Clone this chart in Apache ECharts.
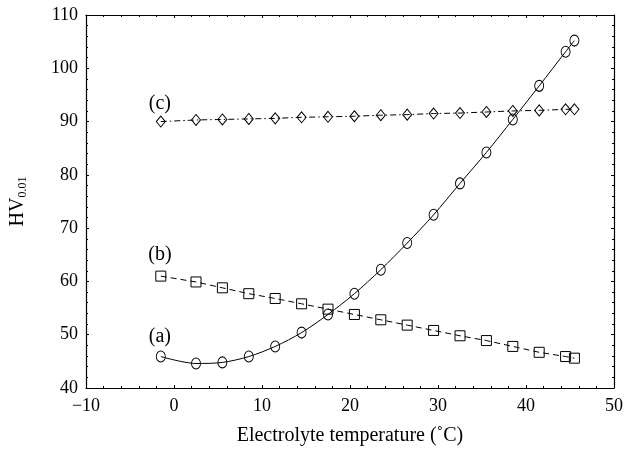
<!DOCTYPE html>
<html>
<head>
<meta charset="utf-8">
<script src="https://cdn.jsdelivr.net/npm/echarts@6/dist/echarts.min.js"></script>
<style>
  html, body { margin: 0; padding: 0; background: #fff; }
  #chart { width: 626px; height: 451px; }
</style>
</head>
<body>
<div id="chart"></div>
<script>
// electrolyte temperature (°C)
const temps = [-1.5, 2.5, 5.5, 8.5, 11.5, 14.5, 17.5, 20.5, 23.5, 26.5, 29.5, 32.5, 35.5, 38.5, 41.5, 44.5, 45.5];
// HV0.01 hardness
const seriesA = [45.9, 44.6, 44.8, 45.9, 47.8, 50.4, 53.8, 57.7, 62.2, 67.2, 72.5, 78.4, 84.2, 90.4, 96.7, 103.1, 105.2];
const seriesB = [61.0, 59.9, 58.8, 57.7, 56.8, 55.8, 54.8, 53.8, 52.8, 51.8, 50.8, 49.8, 48.9, 47.8, 46.7, 45.9, 45.6];
const seriesC = [90.0, 90.3, 90.4, 90.5, 90.6, 90.8, 90.9, 91.0, 91.2, 91.3, 91.5, 91.6, 91.8, 92.0, 92.1, 92.3, 92.3];
const curveLabels = ["(a)", "(b)", "(c)"];
const labelSpots = [[-1.6, 49.6], [-1.6, 65.0], [-1.6, 93.3]];

const font = "Liberation Serif";
const pair = (ys) => temps.map((t, i) => [t, ys[i]]);

const chart = echarts.init(document.getElementById("chart"));

const tickCommon = {
  axisLine: { show: true, onZero: false, lineStyle: { color: "#000", width: 1.2 } },
  axisTick: { show: true, inside: true, length: 3, lineStyle: { color: "#000" } },
  minorTick: { show: true, splitNumber: 5, length: 2, lineStyle: { color: "#000" } },
  splitLine: { show: false },
};

function mark(i) {
  return {
    symbol: "circle",
    symbolSize: 0,
    silent: true,
    label: {
      show: true,
      position: "inside",
      formatter: curveLabels[i],
      color: "#000",
      fontFamily: font,
      fontSize: 20,
    },
    data: [{ coord: labelSpots[i] }],
  };
}

const lineSeries = (data, symbol, size, dash, i, smooth) => ({
  type: "line",
  data: pair(data),
  symbol: symbol,
  symbolSize: size,
  smooth: smooth,
  showSymbol: true,
  animation: false,
  lineStyle: { color: "#000", width: 1, type: dash },
  itemStyle: { color: "rgba(0,0,0,0)", borderColor: "#000", borderWidth: 1 },
  markPoint: mark(i),
});

const minus = (v) => String(v).replace("-", "\u2212");

chart.setOption({
  animation: false,
  grid: { left: 86, right: 12, top: 15, bottom: 63 },
  xAxis: [
    {
      type: "value",
      min: -10,
      max: 50,
      interval: 10,
      name: "Electrolyte temperature (˚C)",
      nameLocation: "middle",
      nameGap: 38,
      nameTextStyle: { fontFamily: font, fontSize: 20, color: "#000" },
      axisLabel: { fontFamily: font, fontSize: 18, color: "#000", margin: 9, formatter: minus },
      ...tickCommon,
    },
    {
      type: "value",
      position: "top",
      min: -10,
      max: 50,
      interval: 10,
      axisLabel: { show: false },
      ...tickCommon,
    },
  ],
  yAxis: [
    {
      type: "value",
      min: 40,
      max: 110,
      interval: 10,
      name: "{m|HV}{s|0.01}",
      nameLocation: "middle",
      nameGap: 57,
      nameTextStyle: {
        color: "#000",
        rich: {
          m: { fontFamily: font, fontSize: 20, color: "#000" },
          s: { fontFamily: font, fontSize: 12, color: "#000", padding: [10, 0, 0, 0] },
        },
      },
      axisLabel: { fontFamily: font, fontSize: 18, color: "#000", margin: 8 },
      ...tickCommon,
    },
    {
      type: "value",
      position: "right",
      min: 40,
      max: 110,
      interval: 10,
      axisLabel: { show: false },
      ...tickCommon,
    },
  ],
  series: [
    lineSeries(seriesA, "circle", [9, 11], "solid", 0, 0.3),
    lineSeries(seriesB, "rect", [10, 10], [6, 4], 1, false),
    lineSeries(seriesC, "diamond", [9, 11], [6, 3, 1.5, 3], 2, false),
  ],
});
</script>
</body>
</html>
